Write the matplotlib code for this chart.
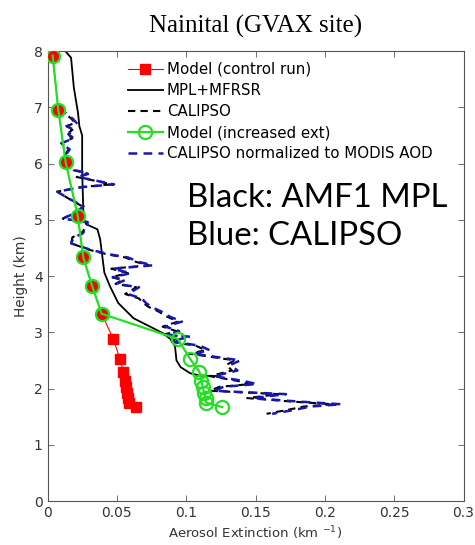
import matplotlib.pyplot as plt
from matplotlib.ticker import FixedLocator, FixedFormatter

# Model runs (height in km, extinction in km^-1)
model_h = [7.92, 6.95, 6.02, 5.07, 4.33, 3.83, 3.33,
           2.88, 2.52, 2.30, 2.14, 2.02, 1.92, 1.83, 1.75, 1.67]
model_ctrl_x = [0.0037, 0.0078, 0.0131, 0.0218, 0.0258, 0.0321, 0.0390,
                0.0475, 0.0523, 0.0547, 0.0560, 0.0568, 0.0574, 0.0580, 0.0585, 0.0636]
model_inc_x = [0.0037, 0.0078, 0.0131, 0.0218, 0.0258, 0.0321, 0.0390,
               0.0940, 0.1030, 0.1095, 0.1110, 0.1120, 0.1130, 0.1140, 0.1143, 0.1260]

# MPL+MFRSR
mpl_h = [8.05, 7.88, 7.35, 6.90, 6.66, 6.50, 5.86, 5.01, 4.92, 4.83, 4.65, 4.06,
         3.82, 3.52, 3.25, 3.10, 2.98, 2.86, 2.74, 2.50, 2.38, 2.27, 2.23, 2.22]
mpl_x = [0.011, 0.017, 0.019, 0.022, 0.023, 0.025, 0.025, 0.026, 0.028, 0.036, 0.038, 0.041,
         0.045, 0.051, 0.062, 0.074, 0.0835, 0.0896, 0.092, 0.093, 0.096, 0.103, 0.110, 0.124]

# CALIPSO profile
cal_h = [7.00, 6.90, 6.80, 6.72, 6.66, 6.60, 6.52, 6.45, 6.36, 6.25, 6.12, 6.00,
         5.88, 5.82, 5.76, 5.70, 5.63, 5.58, 5.50, 5.38, 5.24, 5.12, 5.02, 4.96,
         4.84, 4.75, 4.69, 4.58, 4.46, 4.38, 4.33, 4.25, 4.19, 4.13, 4.05, 3.98,
         3.93, 3.86, 3.80, 3.68, 3.60, 3.52, 3.45, 3.37, 3.28, 3.19, 3.10, 3.02,
         2.96, 2.92, 2.84, 2.76, 2.68, 2.62, 2.50, 2.42, 2.32, 2.22, 2.14, 2.08,
         2.03, 1.96, 1.90, 1.83, 1.77, 1.72, 1.68, 1.62, 1.55]
cal_x = [0.009, 0.012, 0.017, 0.020, 0.013, 0.018, 0.014, 0.018, 0.010, 0.015, 0.012, 0.015,
         0.019, 0.029, 0.021, 0.033, 0.046, 0.024, 0.007, 0.015, 0.025, 0.019, 0.011, 0.028,
         0.027, 0.024, 0.018, 0.017, 0.031, 0.044, 0.056, 0.064, 0.073, 0.046, 0.058, 0.046,
         0.054, 0.049, 0.064, 0.056, 0.066, 0.069, 0.073, 0.080, 0.086, 0.094, 0.083, 0.093,
         0.084, 0.100, 0.087, 0.107, 0.114, 0.102, 0.135, 0.129, 0.133, 0.117, 0.136, 0.147,
         0.124, 0.117, 0.167, 0.144, 0.175, 0.206, 0.185, 0.173, 0.158]
# CALIPSO normalized to MODIS AOD
caln_x = [0.009, 0.013, 0.018, 0.021, 0.014, 0.019, 0.015, 0.019, 0.010, 0.016, 0.012, 0.016,
          0.020, 0.030, 0.022, 0.034, 0.048, 0.025, 0.007, 0.015, 0.026, 0.020, 0.011, 0.029,
          0.028, 0.025, 0.019, 0.017, 0.032, 0.046, 0.058, 0.066, 0.076, 0.047, 0.060, 0.047,
          0.056, 0.050, 0.066, 0.058, 0.068, 0.071, 0.075, 0.082, 0.088, 0.097, 0.085, 0.095,
          0.086, 0.103, 0.089, 0.110, 0.117, 0.105, 0.139, 0.132, 0.137, 0.120, 0.140, 0.151,
          0.127, 0.120, 0.172, 0.148, 0.180, 0.212, 0.190, 0.178, 0.162]

xticks = [0, 0.05, 0.1, 0.15, 0.2, 0.25, 0.3]
xtick_labels = ['0', '0.05', '0.1', '0.15', '0.2', '0.25', '0.3']
yticks = [0, 1, 2, 3, 4, 5, 6, 7, 8]

fig = plt.figure(figsize=(4.75, 5.45), dpi=100)
ax = fig.add_axes([0.100, 0.0807, 0.8758, 0.8257])

ax.plot(model_ctrl_x, model_h, color='#ff0000', lw=0.8, marker='s', ms=6.5,
        mec='#ff0000', mfc='#ff0000', label='Model (control run)', zorder=3)
ax.plot(mpl_x, mpl_h, color='black', lw=1.3, label='MPL+MFRSR', zorder=2)
ax.plot(cal_x, cal_h, color='black', lw=1.5, ls=(0, (3.5, 2.5)), label='CALIPSO', zorder=2)
ax.plot(model_inc_x, model_h, color='#22e022', lw=1.6, marker='o', ms=9.5,
        mfc='none', mec='#22e022', mew=1.6, label='Model (increased ext)', zorder=4)
ax.plot(caln_x, cal_h, color='#1818b0', lw=1.8, ls=(0, (3.5, 2.5)),
        label='CALIPSO normalized to MODIS AOD', zorder=2)

ax.set_xlim(0, 0.3)
ax.set_ylim(0, 8)
ax.xaxis.set_major_locator(FixedLocator(xticks))
ax.xaxis.set_major_formatter(FixedFormatter(xtick_labels))
ax.set_yticks(yticks)
ax.tick_params(direction='in', top=True, right=True, length=4, width=0.6,
               labelsize=10, color='#555555', labelcolor='#333333')
for s in ax.spines.values():
    s.set_linewidth(0.8)
    s.set_color('#555555')

ax.set_xlabel('Aerosol Extinction (km $^{-1}$)', fontsize=9.5, labelpad=3, color='#333333')
ax.set_ylabel('Height (km)', fontsize=9.8, labelpad=4, color='#333333')
ax.set_title('Nainital (GVAX site)', family='Liberation Serif', fontsize=18, pad=13)

ax.legend(loc='upper left', bbox_to_anchor=(0.161, 1.006), frameon=False,
          fontsize=10.8, handlelength=2.33, handletextpad=0.25, labelspacing=0.41)

ax.text(0.3346, 0.654, 'Black: AMF1 MPL', transform=ax.transAxes,
        family='Lato', fontsize=23.7, va='baseline', ha='left')
ax.text(0.3346, 0.569, 'Blue: CALIPSO', transform=ax.transAxes,
        family='Lato', fontsize=23.7, va='baseline', ha='left')

fig.savefig('out.png', dpi=100)
